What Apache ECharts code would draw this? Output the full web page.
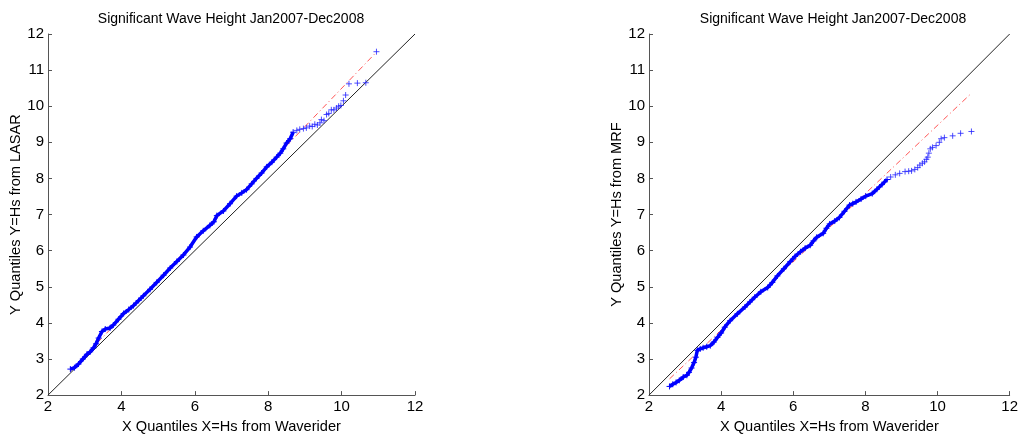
<!DOCTYPE html>
<html>
<head>
<meta charset="utf-8">
<script src="https://cdn.jsdelivr.net/npm/echarts@6/dist/echarts.min.js"></script>
<style>
  html, body { margin: 0; padding: 0; background: #fff; }
  #chart { width: 1021px; height: 439px; }
</style>
</head>
<body>
<div id="chart"></div>
<script>
// quantiles: Waverider (x) vs LASAR / MRF (y)
const lasarBodyX = [2.61,2.72,2.83,2.95,3.06,3.15,3.24,3.31,3.38,3.47,3.56,3.69,3.78,3.92,4.06,4.2,4.33,4.47,4.6,4.78,4.96,5.15,5.33,5.51,5.69,5.87,6.05,6.23,6.41,6.52,6.6,6.78,6.96,7.14,7.28,7.41,7.55,7.68,7.82,7.96,8.1,8.23,8.33,8.41,8.5,8.6,8.68];
const lasarBodyY = [2.72,2.76,2.86,3.0,3.13,3.2,3.31,3.42,3.58,3.76,3.83,3.86,3.94,4.1,4.26,4.37,4.48,4.62,4.75,4.93,5.12,5.32,5.52,5.7,5.88,6.1,6.38,6.55,6.7,6.8,6.97,7.1,7.3,7.51,7.6,7.69,7.85,8.0,8.15,8.32,8.45,8.59,8.7,8.82,8.98,9.1,9.28];
const lasarTailX = [8.78,8.86,8.96,9.04,9.13,9.2,9.27,9.34,9.41,9.45,9.52,9.59,9.65,9.72,9.79,9.86,9.92,9.98,10.05,10.11,10.2,10.43,10.66,10.95];
const lasarTailY = [9.33,9.36,9.38,9.4,9.45,9.44,9.5,9.48,9.54,9.63,9.6,9.77,9.8,9.9,9.9,9.95,10.0,10.02,10.15,10.31,10.62,10.64,10.65,11.51];
const lasarFitX = [2.61, 10.95];
const lasarFitY = [2.67, 11.5];

const mrfBodyX = [2.57,2.66,2.75,2.84,2.95,3.05,3.11,3.18,3.25,3.3,3.34,3.42,3.5,3.6,3.7,3.8,3.9,4.0,4.1,4.25,4.45,4.66,4.8,4.93,5.1,5.29,5.42,5.56,5.74,5.92,6.05,6.2,6.33,6.47,6.56,6.65,6.83,6.92,7.01,7.15,7.28,7.42,7.56,7.65,7.74,7.88,8.01,8.19,8.32,8.46,8.6];
const mrfBodyY = [2.24,2.3,2.35,2.41,2.5,2.55,2.63,2.75,2.9,3.05,3.24,3.28,3.31,3.34,3.37,3.47,3.6,3.72,3.88,4.06,4.25,4.44,4.58,4.71,4.86,4.98,5.12,5.3,5.5,5.7,5.84,5.97,6.07,6.15,6.27,6.37,6.48,6.62,6.74,6.82,6.92,7.09,7.26,7.3,7.35,7.43,7.51,7.58,7.7,7.83,7.97];
const mrfTailX = [8.7,8.83,8.95,9.1,9.2,9.28,9.37,9.45,9.51,9.58,9.64,9.69,9.73,9.76,9.8,9.86,9.96,10.05,10.1,10.19,10.42,10.64,10.94];
const mrfTailY = [8.04,8.1,8.14,8.19,8.2,8.21,8.25,8.3,8.37,8.42,8.46,8.53,8.59,8.7,8.82,8.86,8.91,9.0,9.1,9.13,9.18,9.25,9.3];
const mrfFitX = [2.57, 10.94];
const mrfFitY = [2.45, 10.36];

const diagX = [2, 12];
const diagY = [2, 12];

const titleText = 'Significant Wave Height Jan2007-Dec2008';
const xName = 'X Quantiles X=Hs from Waverider';
const yNames = ['Y Quantiles Y=Hs from LASAR', 'Y Quantiles Y=Hs from MRF'];

const FONT = 'Liberation Sans, Arial, sans-serif';
const PLUS = 'path://M5,0V10M0,5H10';

function pairs(xs, ys) {
    return xs.map((x, i) => [x, ys[i]]);
}

function axisBase(idx, min, max, interval) {
    return {
        type: 'value', gridIndex: idx, min: min, max: max, interval: interval,
        axisLine: { show: true, lineStyle: { color: '#555', width: 1 } },
        axisTick: { show: true, inside: true, length: 4, lineStyle: { color: '#555' } },
        splitLine: { show: false },
        axisLabel: { color: '#000', fontSize: 15, fontFamily: FONT, margin: 4 },
        nameLocation: 'middle',
        nameTextStyle: { color: '#000', fontSize: 14.6, fontFamily: FONT }
    };
}

function panelSeries(idx, bodyX, bodyY, tailX, tailY, fitX, fitY) {
    return [
        {
            type: 'line', xAxisIndex: idx, yAxisIndex: idx,
            data: pairs(diagX, diagY), symbol: 'none', silent: true,
            lineStyle: { color: '#222', width: 1 }, z: 1
        },
        {
            type: 'line', xAxisIndex: idx, yAxisIndex: idx,
            data: pairs(fitX, fitY), symbol: 'none', silent: true,
            lineStyle: { color: '#ff5555', width: 1, type: [6, 3, 1, 3] }, z: 2
        },
        {
            type: 'line', xAxisIndex: idx, yAxisIndex: idx,
            data: pairs(bodyX, bodyY), symbol: PLUS, symbolSize: 6, showAllSymbol: true,
            itemStyle: { color: 'rgba(0,0,0,0)', borderColor: '#0000ff', borderWidth: 1 },
            lineStyle: { color: '#0000ff', width: 3.5 }, z: 3
        },
        {
            type: 'scatter', xAxisIndex: idx, yAxisIndex: idx,
            data: pairs(tailX, tailY), symbol: PLUS, symbolSize: 6,
            itemStyle: { color: 'rgba(0,0,0,0)', borderColor: '#2222ff', borderWidth: 1 }, z: 3
        }
    ];
}

const chart = echarts.init(document.getElementById('chart'));

const xAxes = [0, 1].map(i => Object.assign(axisBase(i, 2, 12, 2), { name: xName, nameGap: 18 }));
const yAxes = [0, 1].map(i => Object.assign(axisBase(i, 2, 12, 1), { name: yNames[i], nameGap: 23 }));

chart.setOption({
    animation: false,
    backgroundColor: '#fff',
    title: [
        { text: titleText, left: 231, top: 12, textAlign: 'center', padding: 0,
          textStyle: { fontSize: 14, fontWeight: 'normal', color: '#000', fontFamily: FONT } },
        { text: titleText, left: 833, top: 12, textAlign: 'center', padding: 0,
          textStyle: { fontSize: 14, fontWeight: 'normal', color: '#000', fontFamily: FONT } }
    ],
    grid: [
        { left: 48, top: 34, width: 367, height: 369 },
        { left: 649, top: 34, width: 368, height: 369 }
    ],
    xAxis: xAxes,
    yAxis: yAxes,
    series: [].concat(
        panelSeries(0, lasarBodyX, lasarBodyY, lasarTailX, lasarTailY, lasarFitX, lasarFitY),
        panelSeries(1, mrfBodyX, mrfBodyY, mrfTailX, mrfTailY, mrfFitX, mrfFitY)
    )
});
</script>
</body>
</html>
